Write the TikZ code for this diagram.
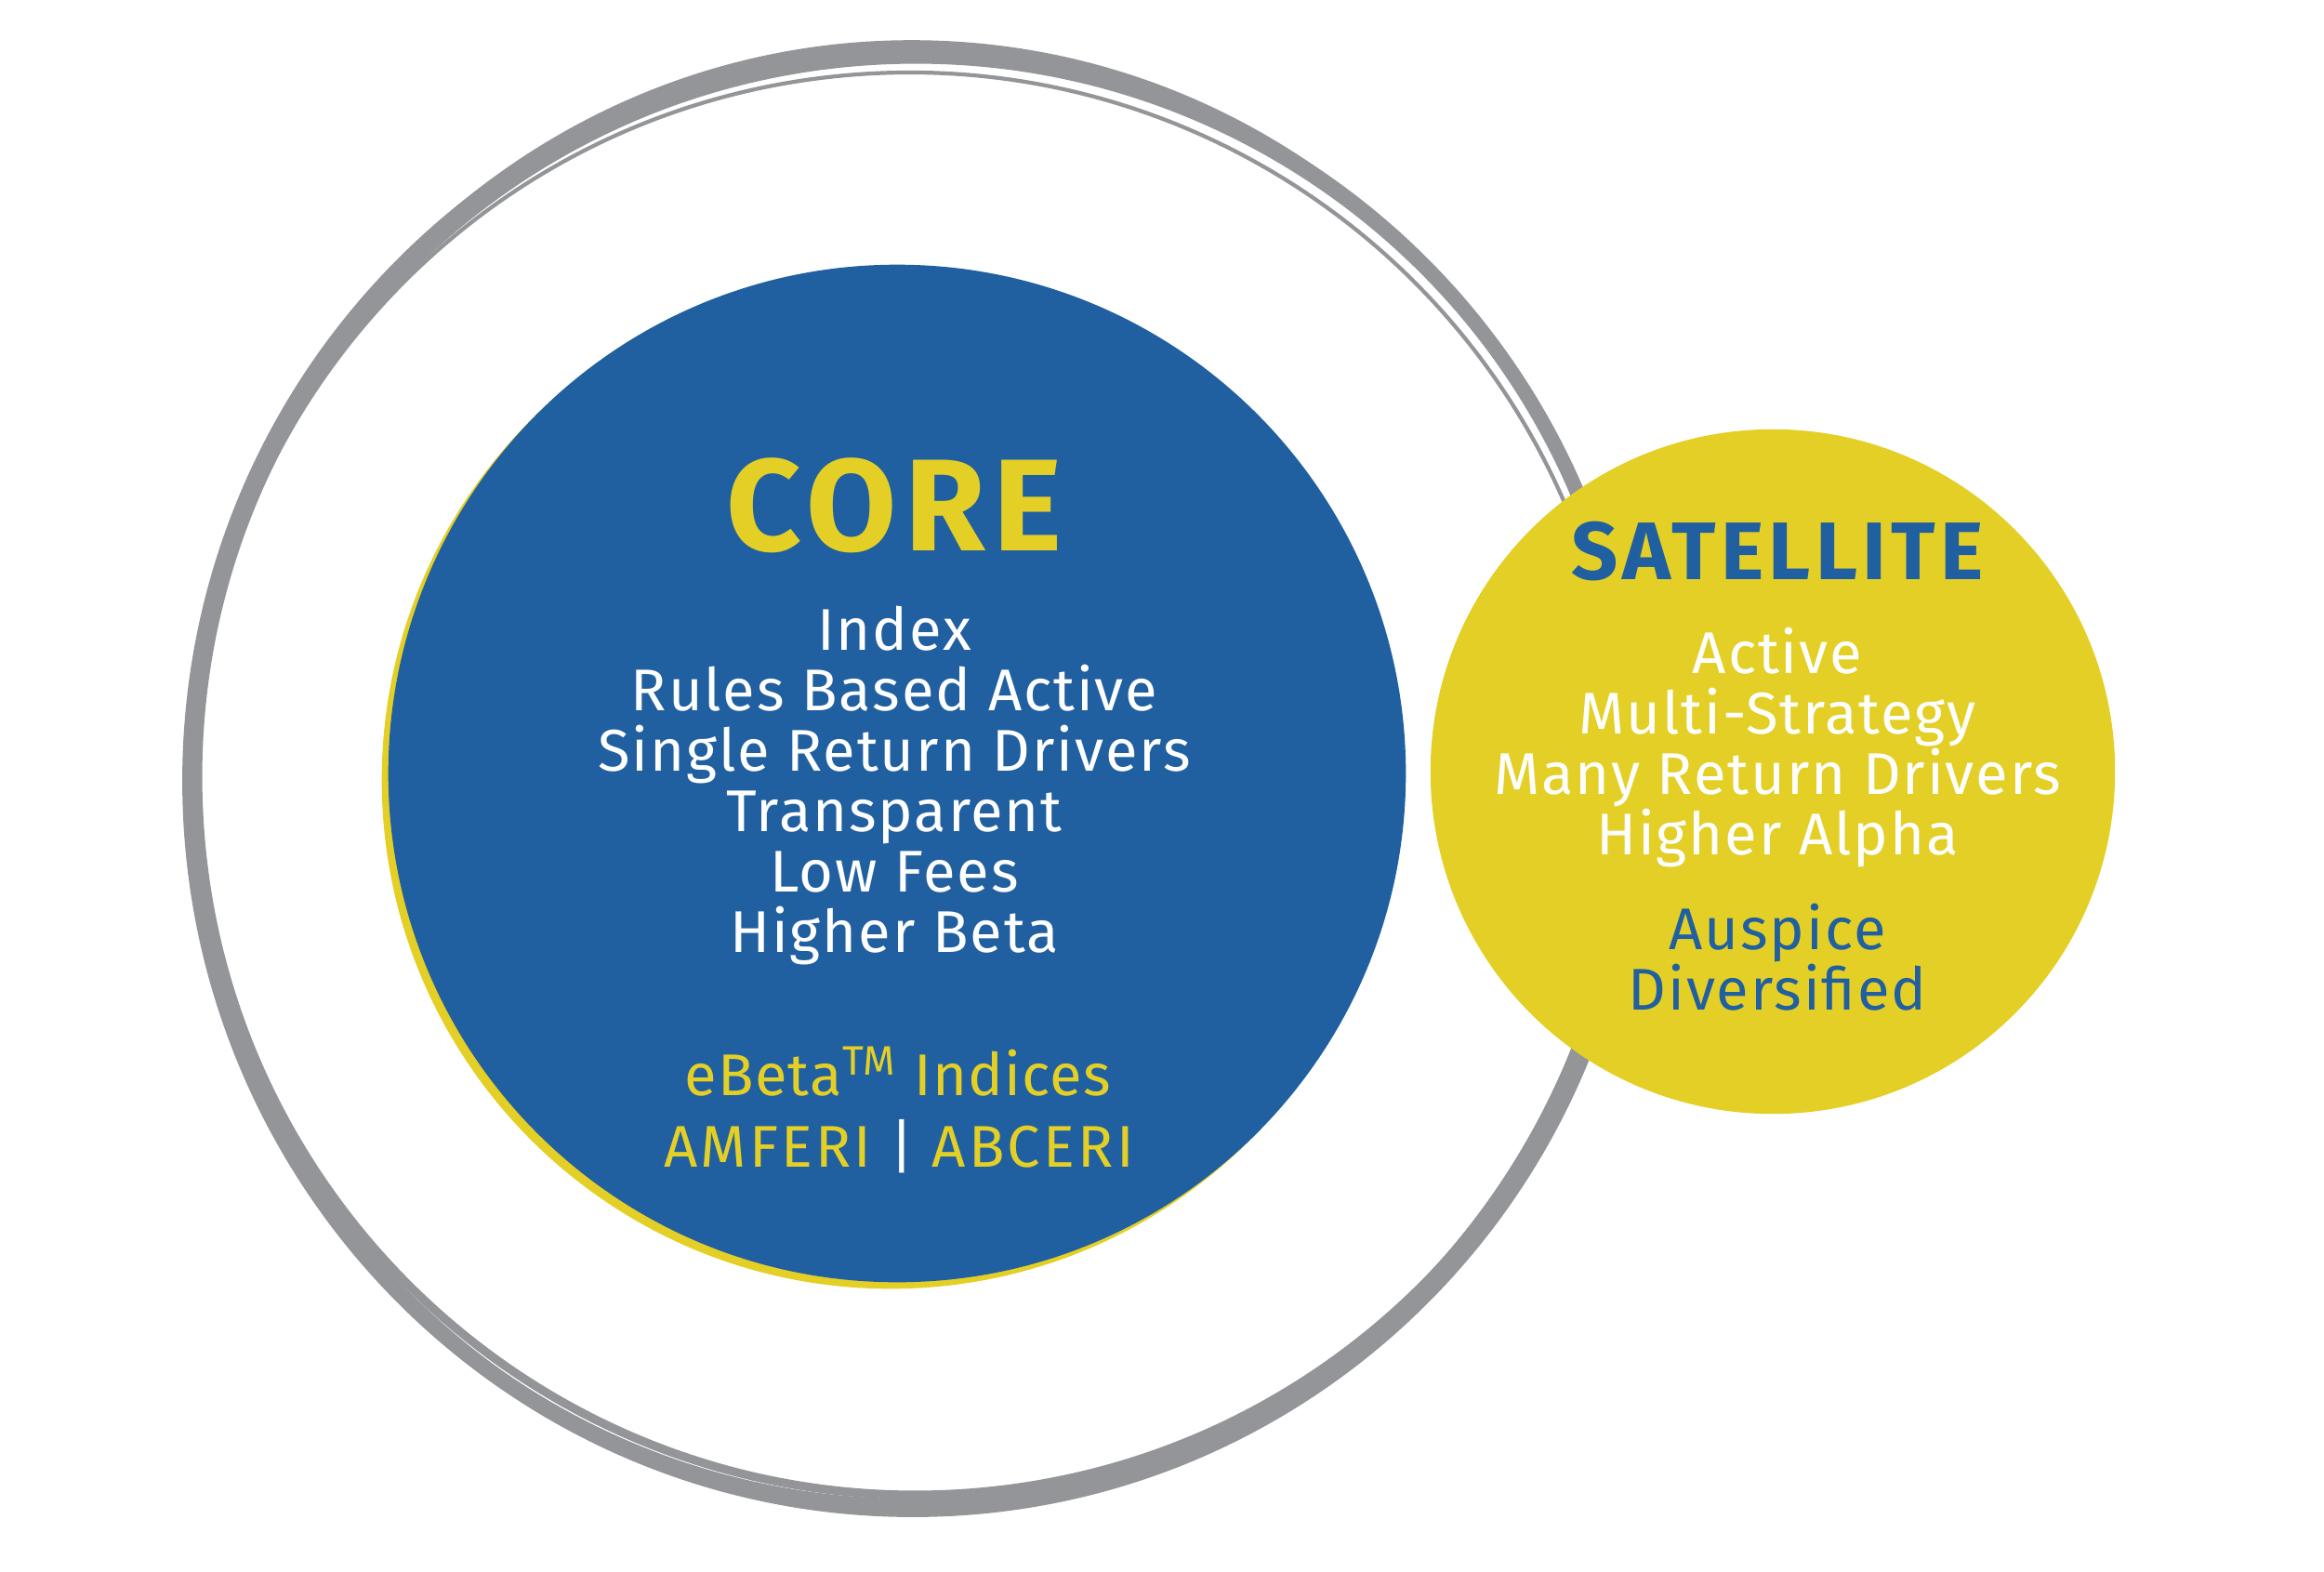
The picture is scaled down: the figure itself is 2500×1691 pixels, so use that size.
\documentclass[tikz,border=0pt]{standalone}
\usepackage{fontspec}
\setmainfont{Fira Sans}
\usepackage{xcolor}
\usetikzlibrary{positioning}
\definecolor{coreblue}{HTML}{2160A0}
\definecolor{satyellow}{HTML}{E3CF26}
\definecolor{ringgrey}{HTML}{939598}

\begin{document}
\begin{tikzpicture}[x=0.01cm,y=-0.01cm,
  ring/.style={draw=ringgrey,line width=4.5pt},
  blob/.style={circle,inner sep=0pt},
  coretitle/.style={font=\fontsize{40}{42}\selectfont\bfseries\addfontfeature{LetterSpace=6}},
  sattitle/.style={font=\fontsize{25}{27}\selectfont\bfseries\addfontfeature{LetterSpace=6}},
  item/.style={align=center,text=white,font=\fontsize{18}{18.5}\selectfont\addfontfeature{LetterSpace=3}},
  index/.style={align=center,font=\fontsize{18}{19}\selectfont\addfontfeature{LetterSpace=2}},
  indexwide/.style={align=center,font=\fontsize{18}{19}\selectfont\addfontfeature{LetterSpace=5}}]
\useasboundingbox (0,0) rectangle (2500,1691);
% sketchy outer ring
\draw[ring] (982,840) ellipse [x radius=778,y radius=784];
\draw[ring,line width=2.6pt,rotate around={3:(985,836)}] (985,836) ellipse [x radius=772,y radius=772];
\draw[ring,line width=1.6pt,rotate around={-2:(980,832)}] (980,832) ellipse [x radius=770,y radius=786];
\draw[ring,line width=1.2pt,rotate around={5:(978,846)}] (978,846) ellipse [x radius=768,y radius=768];
% circles
\node (coreedge) at (958,839) [blob,fill=satyellow,minimum size=10.94cm] {};
\node (core) at (965,832) [blob,fill=coreblue,minimum size=10.94cm] {};
\node (sat) at (1907,830) [blob,fill=satyellow,minimum size=7.36cm] {};
% core texts
\node (corehead) at (962,544) [coretitle,text=satyellow] {CORE};
\node (corelist) at (962,845) [item] {Index\\Rules Based Active\\Single Return Drivers\\Transparent\\Low Fees\\Higher Beta};
\node (ebeta) at (966,1153) [index,text=satyellow] {eBeta\textsuperscript{TM} Indices};
\node (eri) at (967,1233) [indexwide,text=satyellow] {AMFERI \textcolor{white}{|} ABCERI};
% satellite texts
\node (sathead) at (1912,593) [sattitle,text=coreblue] {SATELLITE};
\node (satlist) at (1912,804) [item] {Active\\Multi-Strategy\\Many Return Drivers\\Higher Alpha};
\node (auspice) at (1912,1030) [item,text=coreblue] {Auspice\\Diversified};
\end{tikzpicture}
\end{document}
